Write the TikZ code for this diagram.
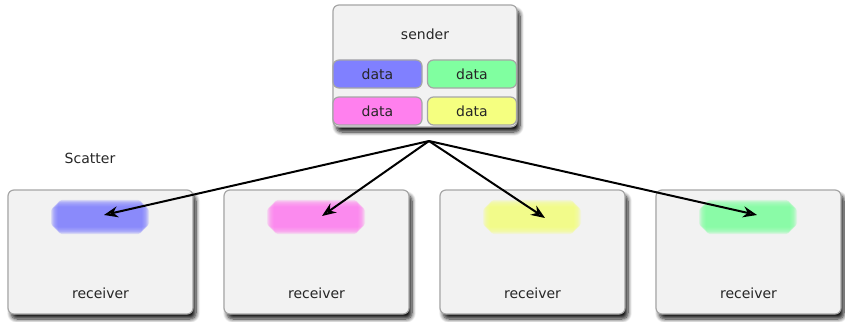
\documentclass[tikz,border=0pt]{standalone}
\usepackage{fontspec}
\setmainfont{DejaVu Sans}
\usetikzlibrary{shadows.blur,arrows.meta,calc}
\definecolor{cblue}{HTML}{8080FF}
\definecolor{cgreen}{HTML}{80FFA0}
\definecolor{cpink}{HTML}{FF80EE}
\definecolor{cyellow}{HTML}{F5FF80}
\tikzset{
  px/.style={x=1pt,y=-1pt},
  box/.style={draw=black!35,line width=1.2pt,fill=black!5,rounded corners=6pt,
    blur shadow={shadow xshift=3pt,shadow yshift=-5pt,shadow blur steps=8,shadow blur radius=4pt,shadow opacity=90}},
  databox/.style={draw=black!35,line width=1.2pt,rounded corners=6pt,minimum width=89pt,minimum height=28pt,inner sep=0pt,font=\fontsize{14}{16}\selectfont,text=black!85},
  lbl/.style={font=\fontsize{14}{16}\selectfont,text=black!85},
  arr/.style={-{Stealth[length=14pt,width=11pt]},line width=2pt}
}
\newcommand{\blurbox}[3]{%
  \foreach \k in {0,...,9}{
    \fill[#3,opacity=0.2,rounded corners=4pt] ($(#1)+(-4pt+\k*0.8pt,-4pt+\k*0.8pt)$) rectangle ($(#2)+(4pt-\k*0.8pt,4pt-\k*0.8pt)$);
  }}
\begin{document}
\begin{tikzpicture}[px]
\useasboundingbox (0,0) rectangle (845,321);
% sender
\filldraw[box] (333,5) rectangle (517,127);
\node[lbl] (snd) at (425,34) {sender};
\node[databox,fill=cblue] (d1) at (377.5,74) {data};
\node[databox,fill=cgreen] (d2) at (472,74) {data};
\node[databox,fill=cpink] (d3) at (377.5,111) {data};
\node[databox,fill=cyellow] (d4) at (472,111) {data};
\node[lbl] (sc) at (90,158) {Scatter};
% receivers
\foreach \i/\x/\c in {1/8/cblue,2/224/cpink,3/440/cyellow,4/656/cgreen}{
  \filldraw[box] (\x,190) rectangle ++(185,124);
  \node[lbl] (r\i) at (\x+92.5,293) {receiver};
  \coordinate (a\i) at (\x+47,203);
  \coordinate (b\i) at (\x+137,231);
  \blurbox{a\i}{b\i}{\c}
}
\coordinate (src) at (429,141);
\coordinate (t1) at (104,215);
\coordinate (t2) at (322,216);
\coordinate (t3) at (545,218);
\coordinate (t4) at (757,215);
\foreach \i in {1,...,4}{\draw[arr] (src) -- (t\i);}
\end{tikzpicture}
\end{document}
